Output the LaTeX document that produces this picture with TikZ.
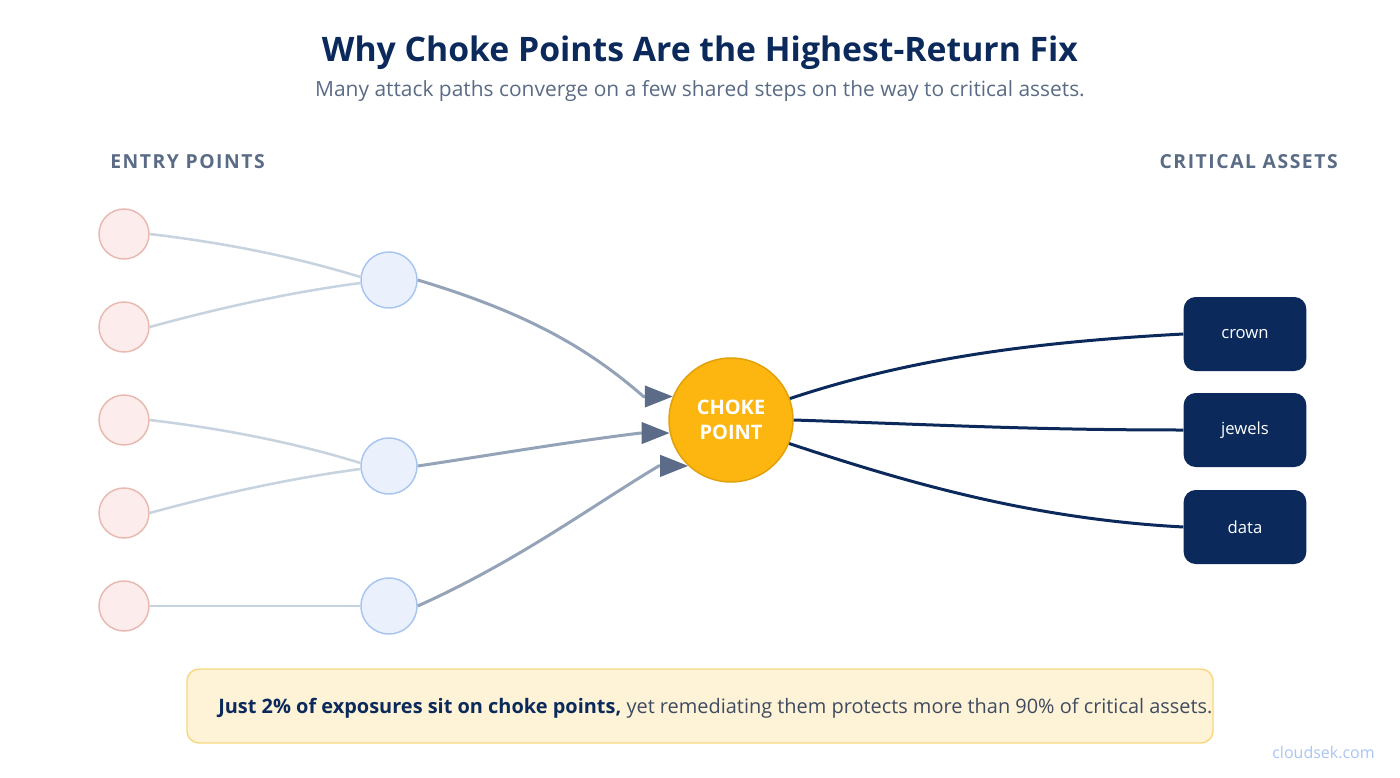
\documentclass[tikz,border=0pt]{standalone}
\usepackage{fontspec}
\setmainfont{Open Sans}
\newfontfamily\trackfont[LetterSpace=8]{Open Sans}
\usetikzlibrary{arrows.meta}
\definecolor{cpNavy}{HTML}{0B2A5B}
\definecolor{cpSlate}{HTML}{5A6B85}
\definecolor{cpText}{HTML}{3F4B60}
\definecolor{entryFill}{HTML}{FDECEC}
\definecolor{entryEdge}{HTML}{E8B9B0}
\definecolor{stepFill}{HTML}{EAF1FC}
\definecolor{stepEdge}{HTML}{A8C5F0}
\definecolor{chokeFill}{HTML}{FDB50F}
\definecolor{chokeEdge}{HTML}{E0A10A}
\definecolor{pathLight}{HTML}{C8D3E0}
\definecolor{pathMid}{HTML}{94A3B8}
\definecolor{tipSlate}{HTML}{5B6B88}
\definecolor{noteFill}{HTML}{FEF3D6}
\definecolor{noteEdge}{HTML}{F8D77E}
\definecolor{linkBlue}{HTML}{A9C4F5}

\begin{document}
\begin{tikzpicture}[x=0.75pt, y=-0.75pt,
  entry/.style={circle, draw=entryEdge, fill=entryFill, line width=1.1pt, minimum size=37.5pt, inner sep=0pt},
  stepnode/.style={circle, draw=stepEdge, fill=stepFill, line width=1.1pt, minimum size=42pt, inner sep=0pt},
  asset/.style={rounded corners=9pt, fill=cpNavy, minimum width=92pt, minimum height=55.5pt, text=white, font=\fontsize{12.5}{15}\selectfont},
  feed/.style={draw=pathLight, line width=1.9pt},
  converge/.style={draw=pathMid, line width=2.25pt, -{Triangle[length=21pt, width=16pt, color=tipSlate]}},
  reach/.style={draw=cpNavy, line width=2.25pt},
  heading/.style={inner sep=0pt, font=\trackfont\bfseries\fontsize{14.5}{17}\selectfont, text=cpSlate}]
  \useasboundingbox (0,0) rectangle (1400,778);
  % titles
  \node[font=\bfseries\fontsize{25.3}{30}\selectfont, text=cpNavy] (title) at (700,53) {Why Choke Points Are the Highest-Return Fix};
  \node[font=\fontsize{15.7}{19}\selectfont, text=cpSlate] (subtitle) at (700,91) {Many attack paths converge on a few shared steps on the way to critical assets.};
  \node[heading, anchor=west] (entryhead) at (110,162) {ENTRY POINTS};
  \node[heading, anchor=east] (assethead) at (1338,162) {CRITICAL ASSETS};
  % entry points and shared steps
  \foreach \i/\y in {1/234,2/327,3/420,4/513,5/606}
    \node[entry] (e\i) at (124,\y) {};
  \node[stepnode] (s1) at (389,280) {};
  \node[stepnode] (s2) at (389,466) {};
  \node[stepnode] (s3) at (389,606) {};
  % choke point
  \node[circle, fill=chokeFill, draw=chokeEdge, line width=1.1pt, minimum size=93pt, align=center, text=white, font=\bfseries\fontsize{15}{18.75}\selectfont] (cp) at (731,420) {CHOKE\\POINT};
  % critical assets
  \node[asset] (crown) at (1245,334) {crown};
  \node[asset] (jewels) at (1245,430) {jewels};
  \node[asset] (data) at (1245,527) {data};
  % entry -> step
  \draw[feed] (e1.east) .. controls +(76,9) and +(-65,-20) .. (s1.174);
  \draw[feed] (e2.east) .. controls +(73,-20) and +(-68,9) .. (s1.186);
  \draw[feed] (e3.east) .. controls +(76,9) and +(-65,-20) .. (s2.174);
  \draw[feed] (e4.east) .. controls +(73,-20) and +(-68,9) .. (s2.186);
  \draw[feed] (e5.east) -- (s3.west);
  % step -> choke point
  \draw[converge] (s1.east) .. controls +(110,33) and +(-55,-48) .. ([xshift=-22pt]cp.158) -- (cp.158);
  \draw[converge] (s2.east) .. controls +(80,-12) and +(-80,10) .. ([xshift=-22pt]cp.192) -- (cp.192);
  \draw[converge] (s3.east) .. controls +(100,-45) and +(-70,42) .. ([xshift=-22pt]cp.227) -- (cp.227);
  % choke point -> assets
  \draw[reach] (cp.20) .. controls +(120,-40) and +(-150,8) .. (crown.west);
  \draw[reach] (cp.0) .. controls +(150,5) and +(-150,0) .. (jewels.west);
  \draw[reach] (cp.-22) .. controls +(120,40) and +(-150,-8) .. (data.west);
  % takeaway
  \node[draw=noteEdge, fill=noteFill, line width=1.1pt, rounded corners=9pt, minimum width=769.5pt, minimum height=55.5pt] (note) at (700,706) {};
  \node[anchor=west, inner sep=0pt, font=\fontsize{14.95}{18}\selectfont, text=cpText] (notetext) at (218,708) {\textcolor{cpNavy}{\bfseries Just 2\% of exposures sit on choke points,} yet remediating them protects more than 90\% of critical assets.};
  \node[anchor=east, inner sep=0pt, font=\fontsize{12}{14}\selectfont, text=linkBlue] (brand) at (1375,753) {cloudsek.com};
\end{tikzpicture}
\end{document}
